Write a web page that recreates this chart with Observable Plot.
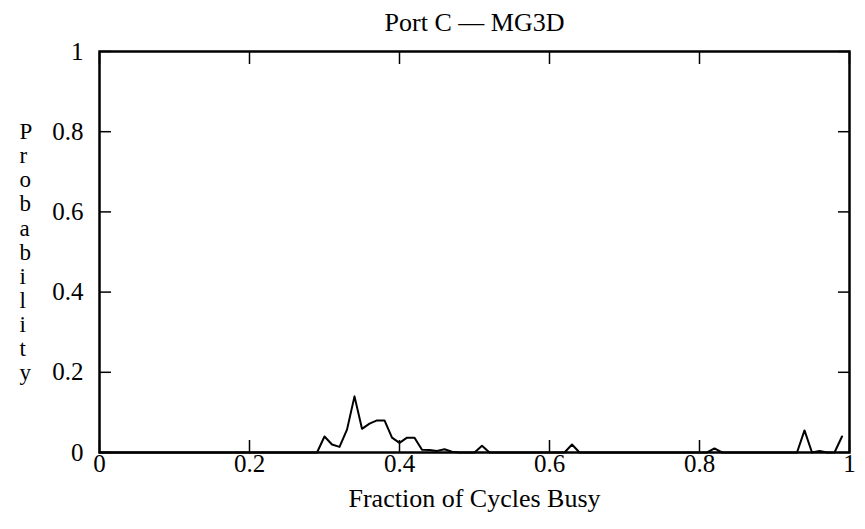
<!DOCTYPE html>
<html>
<head>
<meta charset="utf-8">
<script src="https://cdn.jsdelivr.net/npm/d3@7"></script>
<script src="https://cdn.jsdelivr.net/npm/@observablehq/plot@0.6"></script>
<style>
  html, body { margin: 0; padding: 0; background: #fff; }
  #chart svg { display: block; }
</style>
</head>
<body>
<div id="chart"></div>
<script>
const title = "Port C — MG3D";
const xLabel = "Fraction of Cycles Busy";
const yLabel = "Probability";

// Fraction of cycles busy (bin positions where the curve changes)
const fraction = [0, 0.29, 0.30, 0.31, 0.32, 0.33, 0.34, 0.35, 0.36, 0.37, 0.38, 0.39,
  0.40, 0.41, 0.42, 0.43, 0.44, 0.45, 0.46, 0.47, 0.48, 0.50, 0.51, 0.52,
  0.62, 0.63, 0.64, 0.81, 0.82, 0.83, 0.93, 0.94, 0.95, 0.96, 0.97, 0.98, 0.99];
// Probability
const probability = [0, 0, 0.04, 0.02, 0.014, 0.057, 0.14, 0.059, 0.072, 0.08, 0.08, 0.037,
  0.024, 0.037, 0.037, 0.007, 0.006, 0.004, 0.008, 0.002, 0, 0, 0.017, 0,
  0, 0.02, 0, 0, 0.01, 0, 0, 0.055, 0, 0.004, 0, 0, 0.04];

const xTicks = [0, 0.2, 0.4, 0.6, 0.8, 1];
const yTicks = [0, 0.2, 0.4, 0.6, 0.8, 1];

const data = fraction.map((f, i) => ({f, p: probability[i]}));
const font = "'Liberation Serif', 'DejaVu Serif', serif";
const fmt = d => String(d);

const chart = Plot.plot({
  width: 865,
  height: 529,
  marginLeft: 99,
  marginRight: 16,
  marginTop: 51,
  marginBottom: 77,
  style: {fontFamily: font, fontSize: "25px", color: "#000", background: "#fff"},
  x: {domain: [0, 1]},
  y: {domain: [0, 1]},
  marks: [
    Plot.axisX(xTicks, {anchor: "bottom", tickSize: -12, tickPadding: 14, tickFormat: fmt, label: null, fontSize: 25, strokeWidth: 1.5}),
    Plot.axisX(xTicks, {anchor: "top", tickSize: -12, tickFormat: () => "", label: null, strokeWidth: 1.5}),
    Plot.axisY(yTicks, {anchor: "left", tickSize: -12, tickPadding: 28, tickFormat: fmt, label: null, fontSize: 25, strokeWidth: 1.5}),
    Plot.axisY(yTicks, {anchor: "right", tickSize: -12, tickFormat: () => "", label: null, strokeWidth: 1.5}),
    Plot.line(data, {x: "f", y: "p", stroke: "#000", strokeWidth: 2}),
    Plot.frame({stroke: "#000", strokeWidth: 2.5}),
    Plot.text([title], {frameAnchor: "top", lineAnchor: "middle", dy: -29, fontSize: 26, text: d => d}),
    Plot.text([xLabel], {frameAnchor: "bottom", lineAnchor: "middle", dy: 46, fontSize: 26, text: d => d}),
    Plot.text([yLabel], {frameAnchor: "left", dx: -80, fontSize: 23, lineHeight: 1.05, text: d => d.split("").join("\n")})
  ]
});
document.getElementById("chart").appendChild(chart);
</script>
</body>
</html>
